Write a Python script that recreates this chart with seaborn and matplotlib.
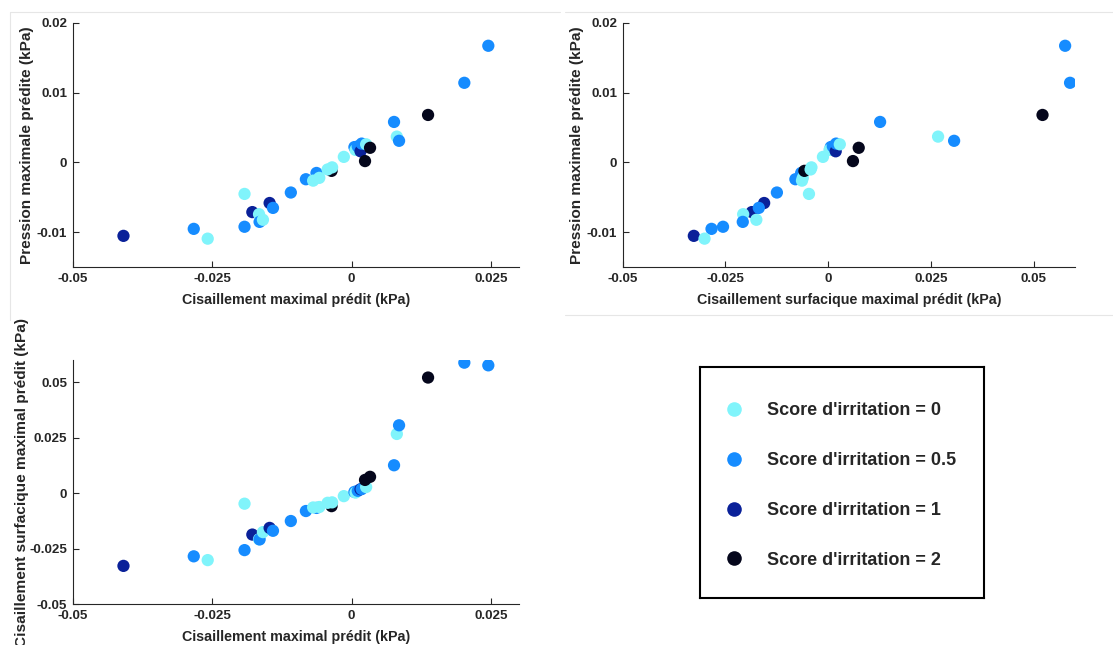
import matplotlib
matplotlib.use("Agg")
import matplotlib.pyplot as plt
from matplotlib.lines import Line2D
import pandas as pd
import seaborn as sns

# Values, one entry per sample
shear_max = [-0.0409, -0.0283, -0.0258, -0.0192, -0.0192, -0.0178, -0.0166, -0.0165,
             -0.0159, -0.0147, -0.0141, -0.0109, -0.0082, -0.0063, -0.0069, -0.0058,
             -0.0036, -0.0043, -0.0035, -0.0014, 0.0005, 0.0007, 0.0011, 0.0016,
             0.0018, 0.0026, 0.0033, 0.0024, 0.0076, 0.0081, 0.0085, 0.0137,
             0.0202, 0.0245]
pressure_max = [-0.0105, -0.0095, -0.0109, -0.0045, -0.0092, -0.0071, -0.0074, -0.0085,
                -0.0082, -0.0058, -0.0065, -0.0043, -0.0024, -0.0015, -0.0026, -0.0022,
                -0.0012, -0.0010, -0.0007, 0.0008, 0.0022, 0.0018, 0.0023, 0.0016,
                0.0027, 0.0026, 0.0021, 0.0002, 0.0058, 0.0037, 0.0031, 0.0068,
                0.0114, 0.0167]
surface_shear_max = [-0.0327, -0.0284, -0.0301, -0.0047, -0.0256, -0.0186, -0.0207, -0.0208,
                     -0.0175, -0.0156, -0.0169, -0.0125, -0.0080, -0.0066, -0.0064, -0.0062,
                     -0.0058, -0.0043, -0.0041, -0.0013, 0.0006, 0.0003, 0.0011, 0.0018,
                     0.0019, 0.0028, 0.0074, 0.0060, 0.0126, 0.0267, 0.0306, 0.0521,
                     0.0588, 0.0576]
score = [1, 0.5, 0, 0, 0.5, 1, 0, 0.5,
         0, 1, 0.5, 0.5, 0.5, 0.5, 0, 0,
         2, 0, 0, 0, 0.5, 0, 0.5, 1,
         0.5, 0, 2, 2, 0.5, 0, 0.5, 2,
         0.5, 0.5]

score_levels = [0, 0.5, 1, 2]
score_colors = ["#80f4fb", "#168cff", "#0a2199", "#05071c"]

shear_ticks = [-0.05, -0.025, 0, 0.025]
surface_ticks = [-0.05, -0.025, 0, 0.025, 0.05]
pressure_ticks = [-0.01, 0, 0.01, 0.02]

df = pd.DataFrame({
    "shear": shear_max,
    "pressure": pressure_max,
    "surface": surface_shear_max,
    "score": score,
})
df["label"] = ["Score d'irritation = %g" % s for s in df["score"]]
labels = ["Score d'irritation = %g" % s for s in score_levels]
palette = dict(zip(labels, score_colors))

sns.set_theme(style="white")
plt.rcParams["font.family"] = ["Liberation Sans", "DejaVu Sans"]
plt.rcParams["font.weight"] = "bold"

W, H = 1113, 645
fig = plt.figure(figsize=(W / 100, H / 100), dpi=100)


def add_ax(left, top, right, bottom):
    return fig.add_axes([left / W, 1 - bottom / H, (right - left) / W, (bottom - top) / H])


ax1 = add_ax(72.7, 22.7, 519, 267.3)
ax2 = add_ax(622.7, 22.7, 1075, 267.3)
ax3 = add_ax(72.7, 360, 519, 604.3)

panels = [
    (ax1, "shear", "pressure", shear_ticks, pressure_ticks, (-0.05, 0.03), (-0.015, 0.02),
     "Cisaillement maximal prédit (kPa)", "Pression maximale prédite (kPa)"),
    (ax2, "surface", "pressure", surface_ticks, pressure_ticks, (-0.05, 0.06), (-0.015, 0.02),
     "Cisaillement surfacique maximal prédit (kPa)", "Pression maximale prédite (kPa)"),
    (ax3, "shear", "surface", shear_ticks, surface_ticks, (-0.05, 0.03), (-0.05, 0.06),
     "Cisaillement maximal prédit (kPa)", "Cisaillement surfacique maximal prédit (kPa)"),
]

grey = "#262626"
for ax, xcol, ycol, xt, yt, xl, yl, xlab, ylab in panels:
    sns.scatterplot(data=df, x=xcol, y=ycol, hue="label", hue_order=labels,
                    palette=palette, s=78, linewidth=0, alpha=1, ax=ax, legend=False)
    ax.set_xlim(*xl)
    ax.set_ylim(*yl)
    ax.set_xticks(xt, ["%g" % v for v in xt])
    ax.set_yticks(yt, ["%g" % v for v in yt])
    ax.tick_params(direction="in", length=4, width=0.8, color=grey, labelcolor=grey,
                   labelsize=9.6, pad=4, left=True, bottom=True)
    for lab in ax.get_xticklabels() + ax.get_yticklabels():
        lab.set_fontweight("bold")
    for side in ["top", "right"]:
        ax.spines[side].set_visible(False)
    for side in ["left", "bottom"]:
        ax.spines[side].set_color(grey)
        ax.spines[side].set_linewidth(0.8)
    ax.set_xlabel(xlab, fontsize=10.3, fontweight="bold", color=grey, labelpad=6)
    ax.set_ylabel(ylab, fontsize=11.1, fontweight="bold", color=grey)
    ax.yaxis.set_label_coords(-0.086, 0.5)
    ax.set_facecolor("white")

ax3.yaxis.set_label_coords(-0.097, 0.5)

# legend box
box = add_ax(700, 367, 984, 598)
box.set_xticks([])
box.set_yticks([])
for sp in box.spines.values():
    sp.set_color("black")
    sp.set_linewidth(1.5)
    sp.set_visible(True)

handles = [Line2D([0], [0], marker="o", linestyle="", markersize=10.5,
                  markerfacecolor=c, markeredgewidth=0) for c in score_colors]
leg = box.legend(handles, labels, loc="center", frameon=False, fontsize=13,
                 labelspacing=1.82, handlelength=1.0, handletextpad=1.3,
                 borderpad=0, bbox_to_anchor=(0.495, 0.487))
for t in leg.get_texts():
    t.set_fontweight("bold")

# faint panel borders from the original composite
for x0, y0, x1, y1 in [(10, 12, 560, 12), (10, 12, 10, 320),
                       (565, 12, 1113, 12), (565, 315, 1113, 315)]:
    fig.add_artist(Line2D([x0 / W, x1 / W], [1 - y0 / H, 1 - y1 / H],
                          color="#e6e6e6", linewidth=0.8))

fig.savefig("out.png", dpi=100)
